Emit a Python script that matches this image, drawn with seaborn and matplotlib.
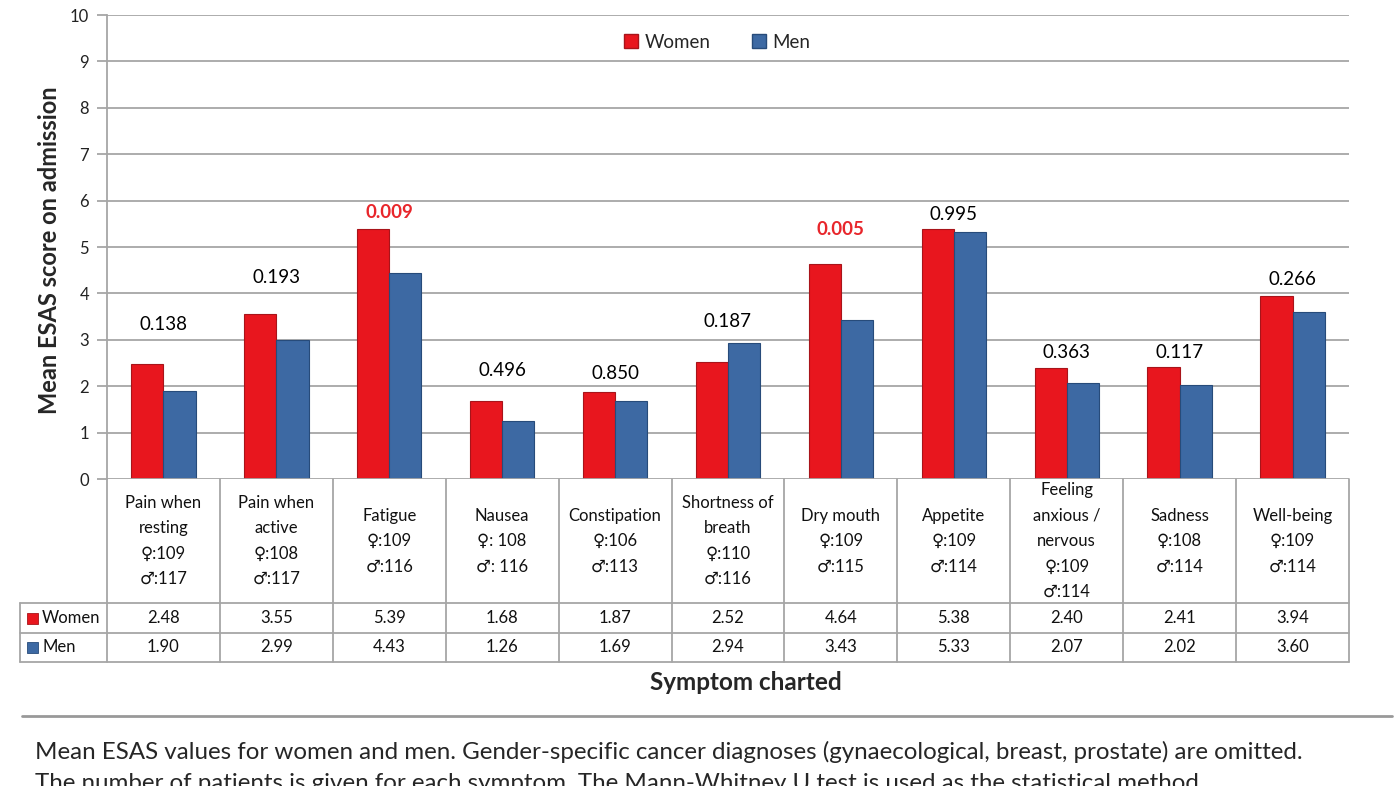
import matplotlib
matplotlib.use("Agg")
import matplotlib.pyplot as plt
import matplotlib.transforms as mtransforms
from matplotlib.patches import Patch, Rectangle
import seaborn as sns
import pandas as pd

# ---------------- data ----------------
symptoms = ["Pain when\nresting", "Pain when\nactive", "Fatigue", "Nausea", "Constipation",
            "Shortness of\nbreath", "Dry mouth", "Appetite", "Feeling\nanxious /\nnervous",
            "Sadness", "Well-being"]
n_women = ["109", "108", "109", " 108", "106", "110", "109", "109", "109", "108", "109"]
n_men = ["117", "117", "116", " 116", "113", "116", "115", "114", "114", "114", "114"]
women = [2.48, 3.55, 5.39, 1.68, 1.87, 2.52, 4.64, 5.38, 2.40, 2.41, 3.94]
men = [1.90, 2.99, 4.43, 1.26, 1.69, 2.94, 3.43, 5.33, 2.07, 2.02, 3.60]
pvals = ["0.138", "0.193", "0.009", "0.496", "0.850", "0.187", "0.005", "0.995", "0.363", "0.117", "0.266"]
significant = [False, False, True, False, False, False, True, False, False, False, False]
groups = ["Women", "Men"]
yticks = list(range(0, 11))

# layout only: vertical centre of each p-value label (data units)
pval_label_y = [3.32, 4.35, 5.75, 2.33, 2.28, 3.40, 5.37, 5.71, 2.72, 2.72, 4.31]

RED = "#E8161E"
BLUE = "#3D69A3"
RED_EDGE = "#A8141A"
BLUE_EDGE = "#274B7A"
GRID = "#A6A6A6"
FONT = ["Lato", "DejaVu Sans"]

sns.set_theme(style="white")
plt.rcParams["font.family"] = FONT

keys = [f"c{i}" for i in range(len(symptoms))]
df = pd.DataFrame({
    "Symptom": keys * 2,
    "Score": women + men,
    "Gender": ["Women"] * len(keys) + ["Men"] * len(keys),
})

W, H = 1400, 786
fig = plt.figure(figsize=(W / 100, H / 100), dpi=100)
left, right, top, bottom = 107, 1349, 15, 479
ax = fig.add_axes([left / W, 1 - bottom / H, (right - left) / W, (bottom - top) / H])

sns.barplot(data=df, x="Symptom", y="Score", hue="Gender", order=keys, hue_order=groups,
            palette=[RED, BLUE], width=0.57, ax=ax, legend=False, errorbar=None,
            saturation=1)
for i, p in enumerate(ax.patches):
    p.set_edgecolor(RED_EDGE if i < len(keys) else BLUE_EDGE)
    p.set_linewidth(0.8)

ax.set_xlim(-0.5, len(keys) - 0.5)
ax.set_ylim(0, 10)
ax.set_yticks(yticks)
ax.set_yticklabels([str(t) for t in yticks], fontsize=12, color="#222222")
ax.set_xticks([])
ax.set_xlabel("")
ax.set_ylabel("")
for y in yticks[1:]:
    ax.axhline(y, color=GRID, lw=1.3, zorder=0)
for s in ["top", "right", "bottom"]:
    ax.spines[s].set_visible(False)
ax.spines["left"].set_color(GRID)
ax.spines["left"].set_linewidth(1.3)
ax.tick_params(axis="y", length=7, width=1.3, color=GRID, pad=6, left=True)
ax.axhline(0, color=GRID, lw=1.3, zorder=3)

# p-values
for i, (pv, sig) in enumerate(zip(pvals, significant)):
    ax.text(i, pval_label_y[i], pv, ha="center", va="center", fontsize=13.5,
            color="#E8262B" if sig else "black", fontweight="bold" if sig else "normal")

# ---------------- data table ----------------
trans = mtransforms.blended_transform_factory(ax.transData, ax.transAxes)
ph = bottom - top
r1 = -(603 - bottom) / ph
r2 = -(633 - bottom) / ph
r3 = -(662 - bottom) / ph
cat_w = (right - left) / len(keys)
xl = -0.5 - (left - 20) / cat_w
tlw = 1.3
for i in range(len(keys) + 1):
    ax.plot([i - 0.5, i - 0.5], [0, r3], transform=trans, color=GRID, lw=tlw, clip_on=False)
for yy in (r1, r2, r3):
    ax.plot([xl, len(keys) - 0.5], [yy, yy], transform=trans, color=GRID, lw=tlw, clip_on=False)
ax.plot([xl, xl], [r1, r3], transform=trans, color=GRID, lw=tlw, clip_on=False)

for i in range(len(keys)):
    label = f"{symptoms[i]}\n\u2640:{n_women[i]}\n\u2642:{n_men[i]}"
    ax.text(i, r1 / 2, label, transform=trans, ha="center", va="center", fontsize=12,
            linespacing=1.72, color="#111111", clip_on=False)
    ax.text(i, (r1 + r2) / 2, f"{women[i]:.2f}", transform=trans, ha="center", va="center",
            fontsize=12, color="#111111", clip_on=False)
    ax.text(i, (r2 + r3) / 2, f"{men[i]:.2f}", transform=trans, ha="center", va="center",
            fontsize=12, color="#111111", clip_on=False)

# row headers
for (yc, name, col, ec) in [((r1 + r2) / 2, groups[0], RED, RED_EDGE),
                            ((r2 + r3) / 2, groups[1], BLUE, BLUE_EDGE)]:
    fy = 1 - (bottom - yc * ph) / H
    fig.patches.append(Rectangle((27 / W, fy - 5.5 / H), 11 / W, 11 / H, transform=fig.transFigure,
                                 facecolor=col, edgecolor=ec, lw=0.6))
    fig.text(42 / W, fy, name, ha="left", va="center", fontsize=12, color="#111111")

# legend
handles = [Patch(facecolor=RED, edgecolor=RED_EDGE), Patch(facecolor=BLUE, edgecolor=BLUE_EDGE)]
fig.legend(handles, groups, loc="center", bbox_to_anchor=(717 / W, 1 - 42 / H), ncol=2,
           frameon=False, fontsize=13.5, handlelength=0.75, handleheight=0.75,
           handletextpad=0.35, columnspacing=2.2)

# axis titles
fig.text(50 / W, 1 - 250 / H, "Mean ESAS score on admission", rotation=90, ha="center",
         va="center", fontsize=17, fontweight="bold")
fig.text(746 / W, 1 - 682 / H, "Symptom charted", ha="center", va="center", fontsize=17.5,
         fontweight="bold")

# caption
fig.add_artist(plt.Line2D([22 / W, 1392 / W], [1 - 716 / H, 1 - 716 / H], transform=fig.transFigure,
                          color="#999999", lw=2))
cap_font = ["Liberation Sans Narrow", "Lato", "DejaVu Sans"]
fig.text(35 / W, 1 - 752 / H,
         "Mean ESAS values for women and men. Gender-specific cancer diagnoses (gynaecological, breast, prostate) are omitted.",
         ha="left", va="center", fontsize=17.4, family=cap_font)
fig.text(35 / W, 1 - 784 / H,
         "The number of patients is given for each symptom. The Mann-Whitney U test is used as the statistical method.",
         ha="left", va="center", fontsize=17.4, family=cap_font)

fig.savefig("out.png", dpi=100)
